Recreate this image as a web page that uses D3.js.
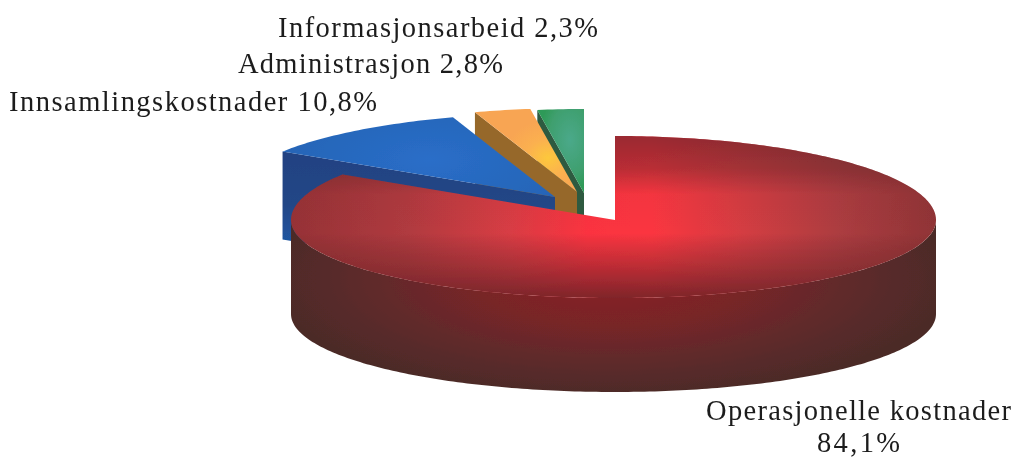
<!DOCTYPE html>
<html><head><meta charset="utf-8">
<script src="https://cdn.jsdelivr.net/npm/d3@7"></script>
<style>html,body{margin:0;padding:0;background:#fff}svg{display:block}
text{font-family:"Liberation Serif",serif;font-size:28.5px;fill:#1c1c1c}</style>
</head><body><svg id="c" width="1014" height="458"></svg>
<script>
const categories = ["Operasjonelle kostnader","Innsamlingskostnader","Administrasjon","Informasjonsarbeid"];
const values = [84.1,10.8,2.8,2.3];
const valueLabels = ["84,1%","10,8%","2,8%","2,3%"];

// drawing constants
const explode = [[0,0],[-60,-23],[-38,-28],[-31,-27]];
const depth = [94,88,88,88];
const topFill = ["url(#rTop)","url(#bTop)","url(#oTop)","url(#gTop)"];
const wallFill = ["url(#rWall)","url(#bWall)","#96682c","#2f5a40"];

const svg=d3.select("#c");
const defs=svg.append("defs");
function stops(g,list){list.forEach(([o,c,a])=>{const s=g.append("stop").attr("offset",o).attr("stop-color",c);if(a!==undefined)s.attr("stop-opacity",a);});}
function radial(id,cx,cy,rx,ry,list){
  const g=defs.append("radialGradient").attr("id",id).attr("gradientUnits","userSpaceOnUse")
    .attr("cx",0).attr("cy",0).attr("r",1)
    .attr("gradientTransform",`translate(${cx},${cy}) scale(${rx},${ry})`);
  stops(g,list);
}
function linear(id,x1,y1,x2,y2,list){
  const g=defs.append("linearGradient").attr("id",id).attr("gradientUnits","userSpaceOnUse")
    .attr("x1",x1).attr("y1",y1).attr("x2",x2).attr("y2",y2);
  stops(g,list);
}
linear("rTop",291,0,936,0,[[0,"#963236"],[.18,"#b03a3f"],[.34,"#d83c44"],[.46,"#fb3340"],[.56,"#fb3640"],[.7,"#d43c42"],[.85,"#ac3c40"],[1,"#903436"]]);
linear("rShade",0,136,0,298,[[0,"#5e2226",.62],[.2,"#5e2226",.42],[.36,"#5e2226",.05],[.6,"#5e2226",0],[.78,"#6a2226",.38],[1,"#6a2226",.85]]);
radial("rWall",610,278,340,118,[[0,"#8a2226"],[.4,"#782528"],[.72,"#5e2a2a"],[1,"#4c2c28"]]);
radial("bTop",430,160,170,70,[[0,"#2a6ec8"],[1,"#2463b4"]]);
linear("bWall",0,150,0,240,[[0,"#234282"],[.6,"#234686"],[1,"#1f55a0"]]);
radial("oTop",548,158,45,38,[[0,"#fcc83c"],[.5,"#fbb050"],[1,"#f8a552"]]);
radial("gTop",570,140,30,50,[[0,"#4aa98a"],[.7,"#3f9f6e"],[1,"#2f9a58"]]);

const f=defs.append("filter").attr("id","soft").attr("x","-2%").attr("y","-2%").attr("width","104%").attr("height","104%");
f.append("feGaussianBlur").attr("stdDeviation",0.55);

const arcs=d3.pie().sort(null).startAngle(0).endAngle(2*Math.PI)(values);
const x=d3.scaleLinear().domain([-1,0,1]).range([291,615,936]);
const y=d3.scaleLinear().domain([-1,0,1]).range([298,220,136]);
const pt=(a,i,dz=0)=>[x(Math.sin(a))+explode[i][0], y(Math.cos(a))+explode[i][1]+dz];
const centre=(i,dz=0)=>[x(0)+explode[i][0], y(0)+explode[i][1]+dz];
const line=d3.line();
const samples=(a0,a1)=>{const n=Math.max(4,Math.ceil((a1-a0)*60));return d3.range(n+1).map(k=>a0+(a1-a0)*k/n);};

const g=svg.append("g").attr("filter","url(#soft)");
[3,2,1,0].forEach(i=>{
  const d=arcs[i],h=depth[i];
  const a0=d.startAngle,a1=d.endAngle;
  if(i>0){
    g.append("path").attr("fill",wallFill[i]).attr("d",line([pt(a0,i),centre(i),centre(i,h),pt(a0,i,h)])+"Z");
  } else {
    const rim=samples(Math.PI/2,Math.min(a1,1.5*Math.PI));
    const pts=rim.map(a=>pt(a,i)).concat(rim.slice().reverse().map(a=>pt(a,i,h)));
    g.append("path").attr("fill",wallFill[i]).attr("d",line(pts)+"Z");
  }
  const surf=line([centre(i)].concat(samples(a0,a1).map(a=>pt(a,i))))+"Z";
  g.append("path").attr("fill",topFill[i]).attr("d",surf);
  if(i===0) g.append("path").attr("fill","url(#rShade)").attr("d",surf);
});

const labels=[
  {t:`${categories[3]} ${valueLabels[3]}`,x:278,y:37,w:320},
  {t:`${categories[2]} ${valueLabels[2]}`,x:238,y:73,w:265},
  {t:`${categories[1]} ${valueLabels[1]}`,x:9,y:111,w:368},
  {t:categories[0],x:706,y:420,w:305},
  {t:valueLabels[0],x:817,y:451.5,w:83}
];
g.selectAll("text").data(labels).join("text")
  .attr("x",d=>d.x).attr("y",d=>d.y).attr("textLength",d=>d.w).attr("lengthAdjust","spacing").text(d=>d.t);
</script></body></html>
